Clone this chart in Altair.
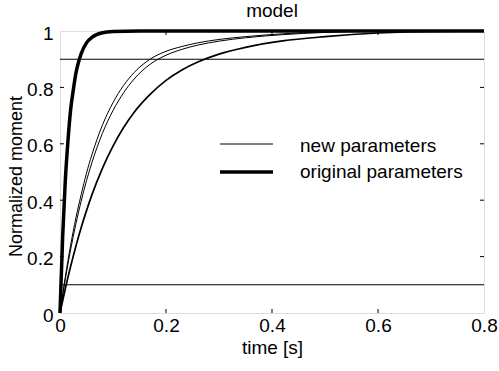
import altair as alt
import pandas as pd

FONT = "Liberation Sans"
W, H = 424, 282
FS = 19

# ---- data ----
t_fast = [0, 0.005, 0.01, 0.015, 0.02, 0.025, 0.03, 0.035, 0.04, 0.05, 0.06, 0.07, 0.08, 0.1, 0.15, 0.8]
m_fast = [0, 0.27, 0.47, 0.61, 0.72, 0.79, 0.85, 0.89, 0.92, 0.958, 0.977, 0.988, 0.994, 0.998, 1.0, 1.0]

t_mid = [0, 0.01, 0.02, 0.03, 0.04, 0.05, 0.06, 0.08, 0.1, 0.12, 0.14, 0.17, 0.2, 0.23, 0.26, 0.3, 0.35, 0.42, 0.5, 0.6, 0.8]
m_mid_a = [0, 0.128, 0.24, 0.337, 0.42, 0.496, 0.56, 0.666, 0.746, 0.807, 0.853, 0.90, 0.928, 0.945, 0.958, 0.97, 0.98, 0.99, 0.997, 1.0, 1.0]
m_mid_b = [0, 0.119, 0.224, 0.316, 0.397, 0.469, 0.532, 0.637, 0.718, 0.781, 0.83, 0.882, 0.914, 0.935, 0.95, 0.964, 0.976, 0.987, 0.995, 0.999, 1.0]

t_slow = [0, 0.01, 0.02, 0.03, 0.04, 0.05, 0.06, 0.08, 0.1, 0.12, 0.14, 0.17, 0.2, 0.23, 0.26, 0.3, 0.35, 0.42, 0.5, 0.6, 0.7, 0.8]
m_slow = [0, 0.086, 0.165, 0.237, 0.303, 0.363, 0.418, 0.513, 0.592, 0.658, 0.712, 0.775, 0.825, 0.862, 0.89, 0.918, 0.942, 0.965, 0.98, 0.993, 0.999, 1.0]

thresholds = [0.1, 0.9]
x_ticks = [0, 0.2, 0.4, 0.6, 0.8]
y_ticks = [0, 0.2, 0.4, 0.6, 0.8, 1]
x_inner_ticks = [0.2, 0.4, 0.6]
y_inner_ticks = [0.2, 0.4, 0.6, 0.8]
legend_labels = ["new parameters", "original parameters"]
title_text = ["model"]

df_fast = pd.DataFrame({"t": t_fast, "m": m_fast, "curve": "fast"})
df_mid = pd.concat([
    pd.DataFrame({"t": t_mid, "m": m_mid_a, "curve": "a"}),
    pd.DataFrame({"t": t_mid, "m": m_mid_b, "curve": "b"}),
])
df_slow = pd.DataFrame({"t": t_slow, "m": m_slow, "curve": "slow"})

X = alt.X("t:Q", title="time [s]",
          scale=alt.Scale(domain=[0, 0.8], nice=False, zero=False),
          axis=alt.Axis(values=x_ticks, format="~g", grid=False, ticks=False, domain=False,
                        labelFlush=False, labelPadding=3, labelFontSize=FS, labelFont=FONT,
                        labelColor="black", titleFontSize=FS, titleFont=FONT,
                        titleFontWeight="normal", titleColor="black",
                        titleY=40, titleBaseline="alphabetic"))
Y = alt.Y("m:Q", title="Normalized moment",
          scale=alt.Scale(domain=[0, 1], nice=False),
          axis=alt.Axis(values=y_ticks, format="~g", grid=False, ticks=False, domain=False,
                        labelFlush=False, labelPadding=7, labelFontSize=FS, labelFont=FONT,
                        labelColor="black", labelOffset=2, titleFontSize=18, titleFont=FONT,
                        titleFontWeight="normal", titleColor="black",
                        titleX=-39, titleY=145, titleAngle=270, titleAlign="center",
                        titleBaseline="alphabetic"))

hl = alt.Chart(pd.DataFrame({"m": thresholds})).mark_rule(color="black", strokeWidth=1.1).encode(y=Y)

fast = alt.Chart(df_fast).mark_line(color="black", strokeWidth=3.5, interpolate="monotone").encode(x=X, y=Y)
fast_thin = alt.Chart(df_fast).mark_line(color="black", strokeWidth=1, interpolate="monotone").encode(x=X, y=Y)
mid = alt.Chart(df_mid).mark_line(color="black", strokeWidth=1, interpolate="monotone").encode(x=X, y=Y, detail="curve:N")
slow = alt.Chart(df_slow).mark_line(color="black", strokeWidth=1.7, interpolate="monotone").encode(x=X, y=Y)

xt = pd.DataFrame({"t": x_inner_ticks})
yt = pd.DataFrame({"m": y_inner_ticks})
tick_b = alt.Chart(xt).mark_rule(color="black").encode(x=X, y=alt.value(H), y2=alt.value(H - 4))
tick_t = alt.Chart(xt).mark_rule(color="black").encode(x=X, y=alt.value(0), y2=alt.value(4))
tick_l = alt.Chart(yt).mark_rule(color="black").encode(y=Y, x=alt.value(0), x2=alt.value(4))
tick_r = alt.Chart(yt).mark_rule(color="black").encode(y=Y, x=alt.value(W - 4), x2=alt.value(W))

leg1 = alt.Chart(pd.DataFrame({"k": [0]})).mark_rule(color="black", strokeWidth=1).encode(
    x=alt.value(160), x2=alt.value(213), y=alt.value(113))
leg2 = alt.Chart(pd.DataFrame({"k": [0]})).mark_rule(color="black", strokeWidth=3.5).encode(
    x=alt.value(160), x2=alt.value(213), y=alt.value(141))
legt1 = alt.Chart(pd.DataFrame({"label": [legend_labels[0]]})).mark_text(
    font=FONT, fontSize=FS, align="left", baseline="alphabetic", color="black").encode(
    x=alt.value(240), y=alt.value(121), text="label:N")
legt2 = alt.Chart(pd.DataFrame({"label": [legend_labels[1]]})).mark_text(
    font=FONT, fontSize=FS, align="left", baseline="alphabetic", color="black").encode(
    x=alt.value(240), y=alt.value(147), text="label:N")

ttl = alt.Chart(pd.DataFrame({"label": title_text})).mark_text(
    font=FONT, fontSize=FS, align="center", baseline="alphabetic", color="black").encode(
    x=alt.value(W / 2), y=alt.value(-14), text="label:N")

chart = alt.layer(hl, slow, mid, fast_thin, fast, tick_b, tick_t, tick_l, tick_r,
                  leg1, leg2, legt1, legt2, ttl).properties(
    width=W, height=H,
    autosize=alt.AutoSizeParams(type="none"),
    padding={"left": 60, "top": 31, "right": 15, "bottom": 58},
).configure_view(stroke="black", strokeWidth=1.2).configure(background="white")

chart.save("out.html", embed_options={"renderer": "svg", "actions": False})
